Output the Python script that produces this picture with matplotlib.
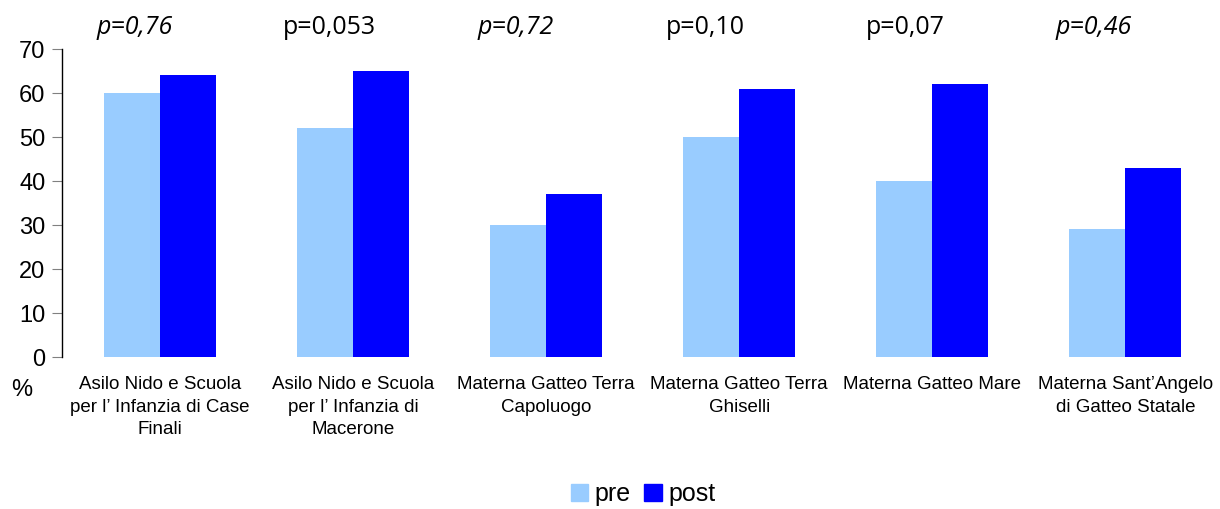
import numpy as np
import matplotlib
matplotlib.use("Agg")
from matplotlib import pyplot as plt
from matplotlib.patches import Patch

# --- dati ---
scuole = [
    "Asilo Nido e Scuola\nper l\u2019 Infanzia di Case\nFinali",
    "Asilo Nido e Scuola\nper l\u2019 Infanzia di\nMacerone",
    "Materna Gatteo Terra\nCapoluogo",
    "Materna Gatteo Terra\nGhiselli",
    "Materna Gatteo Mare",
    "Materna Sant\u2019Angelo\ndi Gatteo Statale",
]
pre = [60, 52, 30, 50, 40, 29]
post = [64, 65, 37, 61, 62, 43]
p_values = ["p=0,76", "p=0,053", "p=0,72", "p=0,10", "p=0,07", "p=0,46"]
p_italic = [True, False, True, False, False, True]
y_ticks = [0, 10, 20, 30, 40, 50, 60, 70]

# posizioni (pixel) del bordo sinistro delle etichette p
p_left_px = [97, 283, 478, 666, 866, 1056]

COL_PRE = "#99ccff"
COL_POST = "#0000ff"
SANS = ["Liberation Sans", "DejaVu Sans"]

W, H = 1220, 509
fig = plt.figure(figsize=(W/100, H/100), dpi=100)
ax = fig.add_axes([62/W, 1 - 357/H, (W - 62)/W, (357 - 49)/H])

x = np.arange(len(scuole))
w = 0.29
ax.bar(x - w/2, pre, width=w, color=COL_PRE, label="pre")
ax.bar(x + w/2, post, width=w, color=COL_POST, label="post")

ax.set_xlim(-0.508, 5.49)
ax.set_ylim(0, 70)
ax.set_yticks(y_ticks)
ax.tick_params(axis="y", direction="out", length=7, color="#808080", labelsize=17, pad=5)
for t in ax.get_yticklabels():
    t.set_fontfamily(SANS)
ax.set_xticks([])
for s in ["top", "right", "bottom"]:
    ax.spines[s].set_visible(False)
ax.spines["left"].set_linewidth(1.0)

# etichette categorie
for xi, lab in zip(x, scuole):
    ax.text(xi, -4.4, lab, ha="center", va="top", fontsize=13.5, family=SANS,
            linespacing=1.42, clip_on=False)

# p-values sopra i gruppi
for px, pv, it in zip(p_left_px, p_values, p_italic):
    fig.text(px/W, 1 - 28/H, pv, ha="left", va="center", fontsize=18,
             style="italic" if it else "normal",
             family=["Open Sans", "DejaVu Sans"])

fig.text(22/W, 1 - 390/H, "%", ha="center", va="center", fontsize=17, family=SANS)

handles = [Patch(color=COL_PRE, label="pre"), Patch(color=COL_POST, label="post")]
fig.legend(handles=handles, loc="center", bbox_to_anchor=(643/W, 1 - 494/H),
           ncol=2, frameon=False, handlelength=0.7, handleheight=0.7,
           handletextpad=0.25, columnspacing=0.55,
           prop={"family": SANS, "size": 18})

fig.savefig("out.png", dpi=100)
